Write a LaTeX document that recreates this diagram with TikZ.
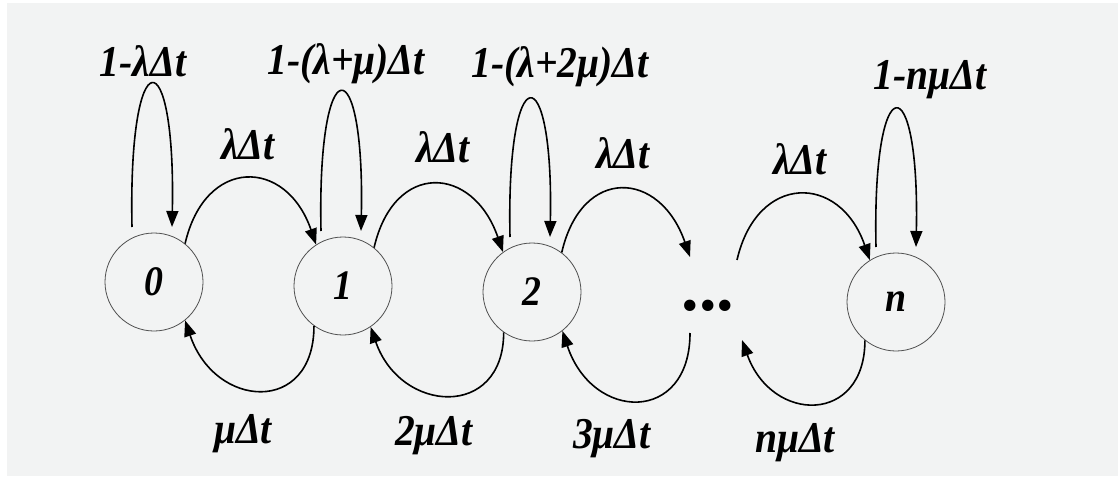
\documentclass[tikz,border=0pt]{standalone}
\usepackage{fontspec}
\setmainfont{Liberation Serif}
\newfontfamily\labfont[FakeStretch=0.9]{Liberation Serif}
\usetikzlibrary{arrows.meta,calc}
\definecolor{paper}{RGB}{242,243,243}
\definecolor{ring}{RGB}{80,80,80}
\begin{document}
\begin{tikzpicture}[x=1pt,y=-1pt,
  state/.style={circle, draw=ring, line width=0.8pt, minimum size=98pt, inner sep=0pt,
    font=\labfont\fontsize{42}{48}\selectfont\bfseries\itshape},
  arr/.style={line width=1.6pt, -{Triangle[length=16pt,width=12pt]}},
  lab/.style={anchor=base, inner sep=0pt, font=\labfont\fontsize{44}{52}\selectfont\bfseries\itshape}]
\fill[white] (0,0) rectangle (1118,481);
\fill[paper] (7,3) rectangle (1118,476);
\useasboundingbox (0,0) rectangle (1118,481);
% states
\node[state] (n0) at (154,282) {0};
\node[state] (n1) at (343,286) {1};
\node[state] (n2) at (532,292) {2};
\node[inner sep=0pt, font=\fontsize{70}{76}\selectfont\bfseries] (dots) at (708,306) {...};
\node[state] (n3) at (896,302) {n};
% free ends at the ellipsis
\coordinate (dT) at ($(dots.center)+(-18,-49)$);
\coordinate (dT2) at ($(dots.center)+(29,-46)$);
\coordinate (dB) at ($(dots.center)+(-18,27)$);
\coordinate (dB2) at ($(dots.center)+(34,34)$);
% self loops
\draw[arr] ($(n0.center)+(-22,-55)$) .. controls +(-4,-190) and +(4,-190) .. ($(n0.center)+(18,-55)$);
\draw[arr] ($(n1.center)+(-22,-55)$) .. controls +(-4,-185) and +(4,-185) .. ($(n1.center)+(18,-55)$);
\draw[arr] ($(n2.center)+(-22,-55)$) .. controls +(-4,-183) and +(4,-183) .. ($(n2.center)+(18,-55)$);
\draw[arr] ($(n3.center)+(-20,-55)$) .. controls +(-4,-183) and +(4,-183) .. ($(n3.center)+(20,-55)$);
% forward arcs
\draw[arr] (n0.51) .. controls +(20,-87) and +(-30,-87) .. (n1.123);
\draw[arr] (n1.51) .. controls +(20,-87) and +(-30,-87) .. (n2.126);
\draw[arr] (n2.53) .. controls +(20,-87) and +(-30,-87) .. (dT);
\draw[arr] (dT2) .. controls +(20,-87) and +(-30,-87) .. (n3.122);
% backward arcs
\draw[arr] (n1.234) .. controls +(0,89) and +(30,89) .. (n0.309);
\draw[arr] (n2.235) .. controls +(0,87) and +(30,87) .. (n1.304);
\draw[arr] (dB) .. controls +(0,91) and +(30,91) .. (n2.308);
\draw[arr] (n3.231) .. controls +(0,84) and +(30,84) .. (dB2);
% loop labels
\node[lab] (l0) at (143,77) {1-λΔt};
\node[lab] (l1) at (346,75) {1-(λ+μ)Δt};
\node[lab] (l2) at (560,78) {1-(λ+2μ)Δt};
\node[lab] (l3) at (930,90) {1-nμΔt};
% forward labels
\node[lab] (a01) at (248,160) {λΔt};
\node[lab] (a12) at (443,163) {λΔt};
\node[lab] (a2d) at (623,168) {λΔt};
\node[lab] (adn) at (800,175) {λΔt};
% backward labels
\node[lab] (b10) at (243,443) {μΔt};
\node[lab] (b21) at (434,445) {2μΔt};
\node[lab] (bd2) at (612,448) {3μΔt};
\node[lab] (bnd) at (795,452) {nμΔt};
\end{tikzpicture}
\end{document}
